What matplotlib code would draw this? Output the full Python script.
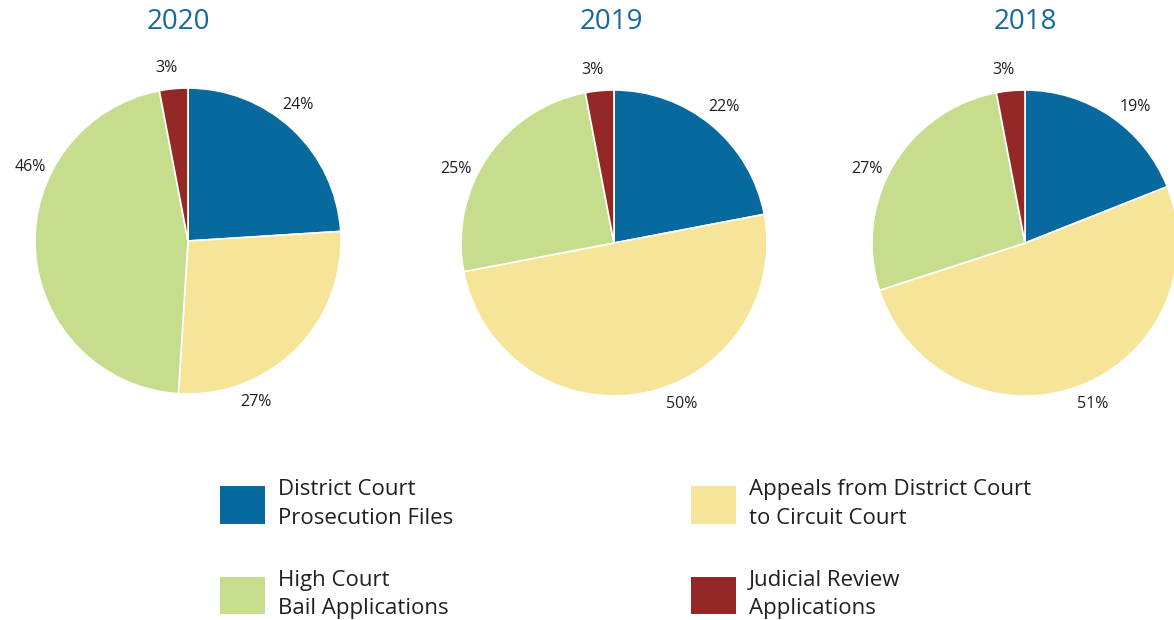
import numpy as np
import matplotlib.pyplot as plt

# data
years = ["2020", "2019", "2018"]
categories = ["District Court\nProsecution Files",
              "Appeals from District Court\nto Circuit Court",
              "High Court\nBail Applications",
              "Judicial Review\nApplications"]
share_2020 = [24, 27, 46, 3]
share_2019 = [22, 50, 25, 3]
share_2018 = [19, 51, 27, 3]
shares = [share_2020, share_2019, share_2018]

colors = ["#07699e", "#f6e599", "#c5dd8c", "#932826"]
title_color = "#16699f"
text_color = "#231f20"

plt.rcParams['font.family'] = ['Open Sans', 'DejaVu Sans']

W, H = 1174, 620
fig = plt.figure(figsize=(W / 100, H / 100), dpi=100)
ax = fig.add_axes([0, 0, 1, 1])

# layout (pixels, y measured from top)
centers = [(188, 241), (614, 243), (1025, 243)]
radius = 153
title_x = [178, 611, 1025]
# where the percentage labels sit, as angle around each pie (degrees)
label_angles = [51, -67, 155, 97]
label_dist = 1.14

wedges_all = []
for vals, (cx, cy), tx, yr in zip(shares, centers, title_x, years):
    cy_up = H - cy
    wedges, _, autotexts = ax.pie(vals, colors=colors, startangle=90, counterclock=False,
                                  center=(cx, cy_up), radius=radius,
                                  autopct=lambda p: '{:.0f}%'.format(p),
                                  pctdistance=label_dist,
                                  wedgeprops={'edgecolor': 'white', 'linewidth': 1.2},
                                  textprops={'fontsize': 11.5, 'color': text_color},
                                  frame=True)
    for t, a in zip(autotexts, label_angles):
        t.set_position((cx + label_dist * radius * np.cos(np.radians(a)),
                        cy_up + label_dist * radius * np.sin(np.radians(a))))
    wedges_all.append(wedges)
    ax.text(tx, H - 22, yr, ha='center', va='center', fontsize=20, color=title_color)

ax.set_xlim(0, W)
ax.set_ylim(0, H)
ax.set_aspect('equal')
ax.axis('off')

# legend: column-first order
w = wedges_all[0]
handles = [w[0], w[2], w[1], w[3]]
labels = [categories[0], categories[2], categories[1], categories[3]]
leg = fig.legend(handles, labels, loc='upper left',
                 bbox_to_anchor=(220 / W, 1 - 479 / H), ncol=2, frameon=False,
                 fontsize=16, handlelength=2.03, handleheight=2.25,
                 handletextpad=0.58, labelspacing=1.85, columnspacing=10.7,
                 borderpad=0, borderaxespad=0)
for t in leg.get_texts():
    t.set_color(text_color)
    t.set_linespacing(1.47)
for p in leg.get_patches():
    p.set_edgecolor('none')

fig.savefig("out.png", dpi=100)
